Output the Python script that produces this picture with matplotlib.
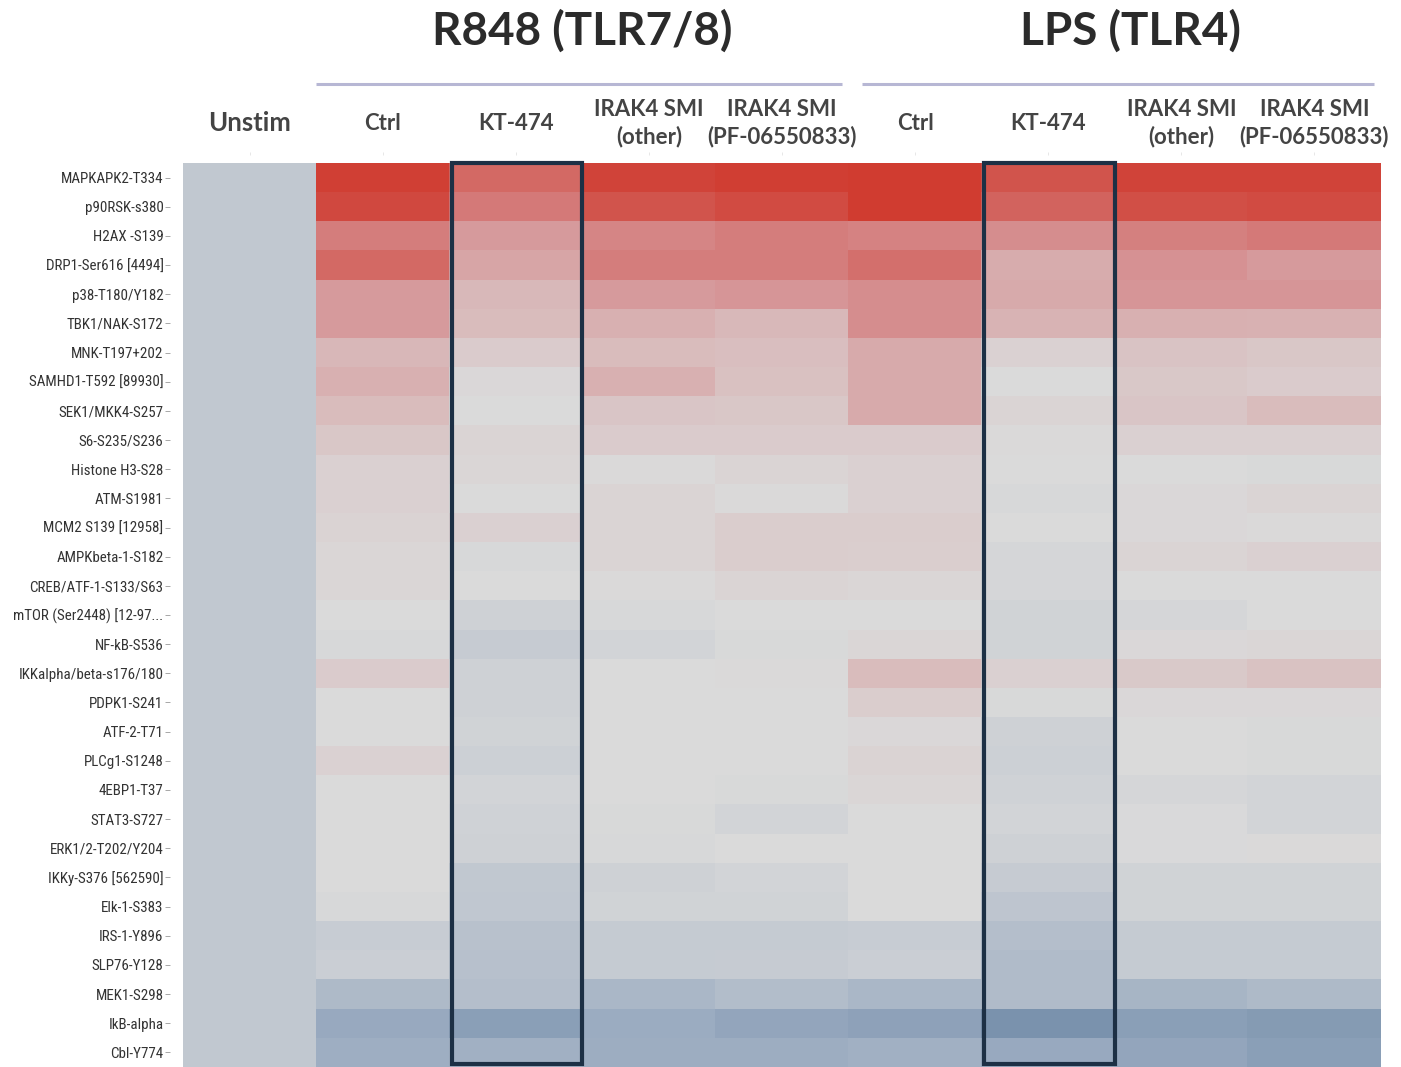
import matplotlib
matplotlib.use("Agg")
import matplotlib.pyplot as plt
import numpy as np
from matplotlib.colors import LinearSegmentedColormap
from matplotlib.patches import Rectangle
from matplotlib import font_manager
import matplotlib.transforms as mtransforms

# ---------------- data ----------------
proteins = [
    "MAPKAPK2-T334", "p90RSK-s380", "H2AX -S139", "DRP1-Ser616 [4494]",
    "p38-T180/Y182", "TBK1/NAK-S172", "MNK-T197+202", "SAMHD1-T592 [89930]",
    "SEK1/MKK4-S257", "S6-S235/S236", "Histone H3-S28", "ATM-S1981",
    "MCM2 S139 [12958]", "AMPKbeta-1-S182", "CREB/ATF-1-S133/S63",
    "mTOR (Ser2448) [12-97...", "NF-kB-S536", "IKKalpha/beta-s176/180",
    "PDPK1-S241", "ATF-2-T71", "PLCg1-S1248", "4EBP1-T37", "STAT3-S727",
    "ERK1/2-T202/Y204", "IKKy-S376 [562590]", "Elk-1-S383", "IRS-1-Y896",
    "SLP76-Y128", "MEK1-S298", "IkB-alpha", "Cbl-Y774",
]

column_labels = ["Unstim", "Ctrl", "KT-474", "IRAK4 SMI\n(other)",
                 "IRAK4 SMI\n(PF-06550833)", "Ctrl", "KT-474",
                 "IRAK4 SMI\n(other)", "IRAK4 SMI\n(PF-06550833)"]
group_titles = ["R848 (TLR7/8)", "LPS (TLR4)"]

unstim = [-0.2, -0.2, -0.2, -0.2, -0.2, -0.2, -0.2, -0.2, -0.2, -0.2, -0.2,
          -0.2, -0.2, -0.2, -0.2, -0.2, -0.2, -0.2, -0.2, -0.2, -0.2, -0.2,
          -0.2, -0.2, -0.2, -0.2, -0.2, -0.2, -0.2, -0.2, -0.2]

r848_ctrl = [0.97, 0.92, 0.60, 0.72, 0.42, 0.42, 0.23, 0.28, 0.20, 0.13, 0.07,
             0.07, 0.05, 0.03, 0.03, 0.00, -0.03, 0.10, 0.00, 0.00, 0.06, 0.00,
             0.00, 0.00, 0.00, -0.03, -0.15, -0.13, -0.35, -0.52, -0.47]
r848_kt474 = [0.72, 0.62, 0.42, 0.35, 0.22, 0.20, 0.10, 0.02, 0.00, 0.04, 0.03,
              0.00, 0.07, -0.03, 0.00, -0.10, -0.16, -0.10, -0.10, -0.08, -0.11,
              -0.07, -0.09, -0.10, -0.20, -0.21, -0.27, -0.28, -0.30, -0.62, -0.45]
r848_smi_other = [0.95, 0.85, 0.55, 0.60, 0.42, 0.28, 0.20, 0.28, 0.14, 0.10,
                  0.01, 0.04, 0.04, 0.04, 0.01, -0.03, -0.07, 0.00, 0.00, 0.00,
                  0.00, 0.00, -0.02, -0.03, -0.10, -0.08, -0.17, -0.17, -0.38,
                  -0.50, -0.48]
r848_smi_pf = [0.98, 0.90, 0.60, 0.60, 0.45, 0.22, 0.18, 0.17, 0.13, 0.10, 0.04,
               0.01, 0.09, 0.09, 0.04, 0.00, -0.02, 0.01, 0.00, 0.00, 0.00,
               -0.02, -0.07, 0.00, -0.07, -0.08, -0.17, -0.16, -0.32, -0.56, -0.48]
lps_ctrl = [1.00, 1.00, 0.57, 0.68, 0.50, 0.50, 0.32, 0.32, 0.32, 0.10, 0.07,
            0.07, 0.09, 0.08, 0.03, 0.00, 0.03, 0.20, 0.09, 0.02, 0.05, 0.03,
            0.00, 0.00, 0.00, 0.00, -0.15, -0.13, -0.38, -0.60, -0.45]
lps_kt474 = [0.85, 0.75, 0.50, 0.30, 0.32, 0.25, 0.06, 0.00, 0.04, 0.01, 0.00,
             -0.03, 0.00, -0.04, -0.04, -0.08, -0.08, 0.07, -0.02, -0.10, -0.11,
             -0.09, -0.07, -0.10, -0.16, -0.22, -0.30, -0.33, -0.33, -0.75, -0.52]
lps_smi_other = [0.95, 0.88, 0.58, 0.47, 0.45, 0.28, 0.15, 0.12, 0.14, 0.07,
                 0.00, 0.02, 0.02, 0.04, 0.00, -0.04, 0.02, 0.11, 0.02, 0.00,
                 0.00, -0.04, -0.01, -0.01, -0.08, -0.08, -0.17, -0.17, -0.40,
                 -0.62, -0.56]
lps_smi_pf = [0.95, 0.90, 0.62, 0.42, 0.45, 0.27, 0.13, 0.10, 0.20, 0.07, -0.02,
              0.04, 0.01, 0.07, 0.00, 0.00, 0.03, 0.16, 0.02, -0.02, -0.02,
              -0.07, -0.07, 0.01, -0.08, -0.08, -0.17, -0.17, -0.35, -0.66, -0.62]

matrix = np.column_stack([unstim, r848_ctrl, r848_kt474, r848_smi_other,
                          r848_smi_pf, lps_ctrl, lps_kt474, lps_smi_other,
                          lps_smi_pf])

# ---------------- style ----------------
cmap = LinearSegmentedColormap.from_list(
    "rb", [(0.0, "#5a7899"), (0.25, "#9bacc1"), (0.5, "#dbdbdb"),
           (0.75, "#d68e90"), (1.0, "#d03c30")])

# pick a narrow font for the row labels if one is installed
installed = {f.name for f in font_manager.fontManager.ttflist}
row_font, row_size = "Liberation Sans", 9.6
for cand in ("Liberation Sans Narrow", "Roboto Condensed", "Open Sans Condensed",
             "DejaVu Sans Condensed"):
    if cand in installed:
        row_font, row_size = cand, 10.8
        break

W, H = 1401, 1067
fig = plt.figure(figsize=(W / 100, H / 100), dpi=100)
ax_left, ax_right, ax_top, ax_bottom = 183, 1381, 163, 1067
ax = fig.add_axes([ax_left / W, 1 - ax_bottom / H,
                   (ax_right - ax_left) / W, (ax_bottom - ax_top) / H])

ax.imshow(matrix, cmap=cmap, vmin=-1, vmax=1, aspect="auto",
          interpolation="nearest")

nrows, ncols = matrix.shape
for s in ax.spines.values():
    s.set_visible(False)

# spine positions first (they reset ticks)
ax.spines["left"].set_position(("outward", 9))
ax.xaxis.tick_top()
ax.spines["top"].set_position(("outward", 6))
ax.tick_params(axis="y", length=3.5, width=0.6, color="#999999", pad=1.5)
ax.tick_params(axis="x", length=2, width=0.5, color="#dddddd", pad=20.8)

# y labels
ax.set_yticks(np.arange(nrows))
ax.set_yticklabels(proteins, family=[row_font, "DejaVu Sans"],
                   fontsize=row_size, color="#333333")

# x labels on top
ax.set_xticks(np.arange(ncols))
ax.set_xticklabels(column_labels, family=["Lato", "DejaVu Sans"],
                   fontweight="bold", fontsize=16, color="#444444",
                   va="center", ha="center", linespacing=1.3)
ax.get_xticklabels()[0].set_fontsize(18.5)

ax.set_xlim(-0.5, ncols - 0.5)
ax.set_ylim(nrows - 0.5, -0.5)

# boxes around KT-474 columns
for xc in (2, 6):
    ax.add_patch(Rectangle((xc - 0.48, -0.5), 0.98, nrows - 0.12, fill=False,
                           edgecolor="#1d3045", linewidth=3.0, clip_on=False,
                           zorder=5))

# group lines and titles
trans = mtransforms.blended_transform_factory(ax.transData, ax.transAxes)
line_y = 1 + (ax_top - 84) / (ax_bottom - ax_top)
title_y = 1 + (ax_top - 31) / (ax_bottom - ax_top)
ax.plot([0.5, 4.45], [line_y, line_y], transform=trans, color="#b7b7d4",
        linewidth=2.2, clip_on=False, solid_capstyle="butt")
ax.plot([4.6, 8.45], [line_y, line_y], transform=trans, color="#b7b7d4",
        linewidth=2.2, clip_on=False, solid_capstyle="butt")
ax.text(2.5, title_y, group_titles[0], transform=trans, ha="center",
        va="center", fontsize=33, fontweight="bold", color="#2b2b2b",
        family=["Lato", "DejaVu Sans"])
ax.text(6.62, title_y, group_titles[1], transform=trans, ha="center",
        va="center", fontsize=33, fontweight="bold", color="#2b2b2b",
        family=["Lato", "DejaVu Sans"])

fig.savefig("out.png", dpi=100, facecolor="white")
